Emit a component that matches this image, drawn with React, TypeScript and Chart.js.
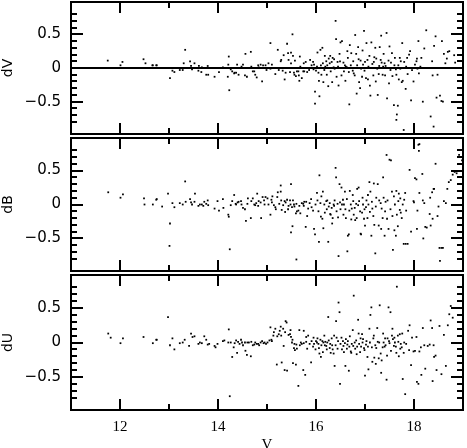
import React, { useEffect, useRef } from 'react';
import { Chart, registerables } from 'chart.js';
Chart.register(...registerables);

// ---- data: [V magnitude, residual] ----
const dVPoints: [number, number][] = [
  [11.75,0.11],[12.05,0.09],[12.01,0.04],[12.48,0.13],[12.52,0.07],[12.66,0.04],[12.74,0.04],
  [12.67,0.04],[12.75,0.04],[12.86,0.00],[13.02,-0.15],[13.07,-0.04],[13.11,-0.06],[13.22,-0.03],[13.28,-0.03],[13.30,0.07],[13.33,0.27],[13.43,0.10],[13.45,0.03],[13.47,-0.02],[13.52,0.07],[13.61,0.03],[13.60,-0.04],[13.66,-0.06],[13.67,0.01],[13.72,0.00],[13.76,-0.10],[13.79,0.03],[13.80,-0.10],[13.93,-0.13],
  [14.02,-0.06],[14.10,0.01],[14.20,-0.13],[14.21,0.05],[14.22,0.17],[14.23,-0.33],[14.26,-0.02],[14.29,-0.05],[14.33,-0.08],[14.34,-0.07],[14.37,-0.07],[14.39,0.05],[14.42,-0.10],[14.48,0.02],[14.51,0.05],[14.55,-0.11],[14.56,0.21],[14.59,-0.13],[14.67,0.24],[14.68,0.02],[14.71,-0.05],[14.74,-0.05],[14.76,-0.10],[14.79,-0.14],[14.82,0.04],[14.83,0.01],[14.87,0.05],[14.90,-0.20],[14.92,0.04],[14.97,0.04],[14.99,-0.03],
  [15.03,0.07],[15.07,0.37],[15.07,-0.01],[15.10,0.05],[15.14,0.00],[15.17,-0.09],[15.22,0.27],[15.24,-0.03],[15.28,0.10],[15.29,0.12],[15.32,-0.04],[15.34,0.19],[15.36,-0.17],[15.38,-0.07],[15.41,0.36],[15.43,0.22],[15.44,0.12],[15.47,-0.06],[15.49,0.23],[15.49,0.07],[15.52,0.50],[15.53,0.18],[15.55,-0.07],[15.56,-0.10],[15.57,0.11],[15.59,-0.12],[15.61,-0.05],[15.64,-0.05],[15.66,-0.19],[15.67,0.17],[15.68,0.02],[15.71,-0.15],[15.74,-0.05],[15.76,-0.05],[15.79,0.09],[15.82,-0.06],
  [15.65,-0.11],[15.75,0.07],[15.83,0.00],[15.86,-0.03],[15.88,0.12],[15.91,0.04],[15.94,0.09],[15.95,-0.02],[15.96,0.05],[15.98,-0.35],[15.98,-0.53],[16.00,-0.04],[16.02,0.02],[16.03,0.23],[16.05,-0.07],[16.06,-0.19],[16.07,-0.42],[16.09,0.27],[16.10,0.04],[16.11,-0.10],[16.13,0.30],[16.14,0.07],[16.15,-0.21],[16.17,-0.03],[16.18,0.18],[16.19,0.02],[16.21,0.10],[16.22,-0.10],[16.23,0.04],[16.25,-0.27],[16.26,0.14],[16.28,0.07],[16.29,0.18],[16.30,-0.05],[16.32,0.09],[16.33,-0.21],[16.34,0.15],[16.36,0.01],[16.37,0.13],[16.38,-0.01],[16.40,0.70],[16.41,0.43],[16.42,-0.13],[16.44,0.09],[16.45,0.02],[16.46,-0.26],[16.48,0.21],[16.49,0.10],[16.50,0.38],[16.52,-0.11],[16.53,0.40],[16.55,0.00],[16.56,0.08],[16.57,-0.05],[16.59,0.04],[16.60,-0.19],[16.61,0.02],[16.63,0.01],[16.64,0.25],[16.65,0.15],[16.67,-0.06],[16.68,-0.54],[16.69,0.34],[16.71,0.04],[16.72,0.22],[16.73,0.00],[16.75,-0.04],[16.76,0.10],[16.77,-0.08],[16.79,-0.11],[16.80,0.49],[16.82,0.21],[16.83,-0.38],[16.84,0.04],[16.86,0.31],[16.87,0.13],[16.88,-0.21],[16.90,-0.30],[16.91,0.11],[16.92,-0.01],[16.94,-0.13],[16.95,0.26],[16.96,0.05],[16.98,0.55],[16.99,-0.04],
  [17.00,0.09],[17.02,-0.15],[17.03,0.37],[17.05,0.12],[17.06,-0.17],[17.07,0.02],[17.09,0.18],[17.10,-0.26],[17.11,-0.41],[17.13,0.38],[17.14,0.00],[17.15,0.06],[17.17,-0.11],[17.18,0.09],[17.19,0.16],[17.21,0.30],[17.22,-0.20],[17.23,0.14],[17.25,-0.01],[17.26,-0.40],[17.28,-0.09],[17.29,0.03],[17.30,0.31],[17.32,0.12],[17.33,0.48],[17.34,0.08],[17.36,-0.10],[17.37,0.02],[17.38,0.21],[17.40,0.07],[17.41,-0.11],[17.42,0.03],[17.44,0.52],[17.45,-0.45],[17.46,0.00],[17.48,0.11],[17.49,-0.23],[17.50,0.32],[17.52,-0.03],[17.53,0.08],[17.55,0.22],[17.56,-0.12],[17.57,0.00],[17.59,-0.55],[17.60,0.04],[17.61,0.15],[17.63,-0.02],[17.64,-0.10],[17.65,-0.69],[17.67,-0.56],[17.64,-0.77],[17.68,0.04],[17.69,-0.17],[17.71,0.15],[17.72,-0.01],[17.73,0.10],[17.75,-0.21],[17.76,0.37],[17.77,-0.19],[17.79,-0.92],[17.80,0.09],[17.83,-0.31],[17.84,0.02],[17.86,0.15],[17.87,-0.09],[17.90,0.20],[17.92,0.25],[17.94,-0.48],[17.96,-0.03],[17.99,-0.20],
  [18.02,0.05],[18.05,0.10],[18.06,0.14],[18.07,-0.01],[18.09,0.40],[18.10,-0.08],[18.13,0.02],[18.15,0.15],[18.18,-0.50],[18.21,0.29],[18.23,0.00],[18.25,0.56],[18.28,0.00],[18.32,0.00],[18.34,-0.72],[18.37,0.10],[18.38,-0.11],[18.40,-0.87],[18.41,0.33],[18.44,0.47],[18.46,-0.44],[18.48,-0.10],[18.53,-0.41],[18.56,-0.49],[18.57,0.40],[18.59,-0.50],[18.61,0.21],[18.64,0.07],[18.67,0.14],[18.69,0.24],[18.72,0.25],[18.82,0.19],[18.84,0.08]
];

const dBPoints: [number, number][] = [
  [11.76,0.18],[12.01,0.10],[12.06,0.15],[12.49,0.09],[12.50,0.00],[12.67,0.00],[12.74,0.07],
  [12.75,0.08],[12.86,-0.03],[12.98,0.16],[13.02,-0.28],[13.01,-0.61],[13.07,0.02],[13.11,-0.04],[13.22,0.02],[13.28,0.00],[13.33,0.34],[13.34,0.04],[13.43,0.08],[13.45,0.03],[13.47,0.00],[13.52,0.04],[13.53,0.16],[13.60,-0.02],[13.63,0.00],[13.67,0.00],[13.70,-0.02],[13.72,0.04],[13.76,0.01],[13.79,0.06],[13.80,-0.01],[13.93,-0.06],[13.99,0.05],
  [14.02,-0.09],[14.10,0.08],[14.11,-0.05],[14.21,-0.15],[14.22,-0.18],[14.24,-0.66],[14.26,-0.01],[14.29,0.05],[14.33,0.14],[14.36,0.01],[14.37,0.00],[14.40,0.03],[14.42,0.04],[14.47,0.05],[14.48,0.00],[14.51,-0.05],[14.55,-0.07],[14.57,-0.24],[14.60,0.01],[14.61,0.09],[14.67,-0.20],[14.68,0.05],[14.71,0.09],[14.74,0.00],[14.76,-0.01],[14.78,0.02],[14.80,0.16],[14.82,-0.02],[14.83,0.05],[14.87,0.03],[14.88,-0.20],[14.91,0.11],[14.94,0.06],[14.95,0.00],[14.97,0.11],
  [15.01,0.09],[15.03,0.00],[15.07,-0.15],[15.09,0.07],[15.10,0.03],[15.11,0.12],[15.14,-0.01],[15.17,-0.04],[15.18,-0.07],[15.21,0.11],[15.22,0.18],[15.25,0.01],[15.28,0.28],[15.28,0.19],[15.29,0.06],[15.30,-0.08],[15.33,-0.01],[15.36,0.05],[15.37,-0.11],[15.38,0.03],[15.41,0.07],[15.43,-0.07],[15.44,-0.02],[15.47,0.06],[15.48,0.00],[15.49,0.30],[15.51,-0.04],[15.52,-0.32],[15.53,0.06],[15.55,0.00],[15.56,-0.03],[15.59,-0.13],[15.60,0.01],[15.61,-0.10],[15.64,-0.09],[15.66,-0.02],[15.68,-0.13],[15.71,0.02],[15.74,0.01],[15.76,0.04],[15.79,-0.33],[15.80,0.04],[15.60,-0.81],[15.49,-0.41],
  [15.75,-0.02],[15.82,-0.17],[15.84,-0.06],[15.87,0.02],[15.90,0.08],[15.91,-0.04],[15.94,-0.09],[15.96,-0.36],[15.98,-0.44],[15.99,0.00],[16.02,0.17],[16.03,0.06],[16.05,-0.10],[16.06,-0.55],[16.07,0.43],[16.09,0.02],[16.10,-0.18],[16.11,0.12],[16.13,-0.21],[16.14,0.19],[16.15,-0.35],[16.17,0.00],[16.18,-0.12],[16.21,0.05],[16.22,-0.07],[16.23,0.06],[16.25,-0.55],[16.26,-0.03],[16.28,0.02],[16.29,-0.14],[16.30,-0.15],[16.32,-0.05],[16.33,-0.28],[16.34,-0.20],[16.36,0.00],[16.37,-0.02],[16.38,0.06],[16.40,0.54],[16.41,0.40],[16.42,-0.10],[16.44,0.01],[16.45,-0.19],[16.46,-0.76],[16.48,0.30],[16.49,0.03],[16.50,-0.07],[16.52,0.25],[16.53,0.00],[16.55,0.07],[16.56,-0.15],[16.57,0.00],[16.59,0.19],[16.60,-0.07],[16.61,-0.20],[16.63,0.08],[16.64,-0.69],[16.65,-0.46],[16.67,-0.44],[16.68,-0.09],[16.69,0.20],[16.71,0.00],[16.72,-0.22],[16.73,-0.06],[16.75,0.14],[16.76,0.05],[16.77,-0.15],[16.79,-0.05],[16.80,-0.23],[16.82,0.01],[16.83,-0.20],[16.84,0.23],[16.86,-0.01],[16.87,0.25],[16.88,0.05],[16.90,-0.10],[16.91,-0.43],[16.92,-0.44],[16.94,-0.12],[16.95,0.10],[16.96,0.00],[16.98,-0.21],[16.99,-0.07],
  [17.00,-0.31],[17.02,-0.04],[17.03,0.06],[17.05,-0.20],[17.06,0.14],[17.07,0.00],[17.09,0.33],[17.10,-0.11],[17.11,0.19],[17.13,-0.46],[17.14,0.04],[17.15,-0.06],[17.17,-0.17],[17.18,0.31],[17.19,-0.30],[17.21,-0.72],[17.22,-0.03],[17.23,0.10],[17.26,0.30],[17.28,-0.31],[17.29,0.06],[17.32,0.02],[17.33,-0.36],[17.34,-0.06],[17.36,-0.20],[17.37,0.40],[17.38,0.10],[17.40,-0.46],[17.41,-0.10],[17.42,0.04],[17.44,0.73],[17.45,-0.21],[17.46,0.06],[17.48,-0.36],[17.50,0.66],[17.52,-0.07],[17.53,0.65],[17.55,0.19],[17.56,-0.17],[17.57,-0.67],[17.59,0.12],[17.60,-0.38],[17.61,0.00],[17.63,-0.46],[17.64,0.20],[17.65,-0.15],[17.67,-0.32],[17.68,0.05],[17.69,0.16],[17.71,-0.08],[17.72,0.09],[17.73,-0.12],[17.75,-0.20],[17.77,0.00],[17.79,-0.58],[17.80,0.07],[17.82,0.17],[17.83,-0.58],[17.84,-0.09],[17.87,-0.58],[17.91,0.51],[17.94,-0.40],[17.99,0.05],
  [18.00,0.03],[18.02,0.39],[18.05,0.37],[18.06,-0.36],[18.07,-0.09],[18.09,0.88],[18.10,0.79],[18.11,0.17],[18.11,0.89],[18.17,0.45],[18.18,0.06],[18.19,-0.50],[18.21,0.02],[18.23,-0.33],[18.26,-0.34],[18.32,-0.14],[18.33,0.10],[18.34,-0.31],[18.37,0.18],[18.38,-0.21],[18.40,0.23],[18.41,0.23],[18.44,0.60],[18.48,-0.17],[18.50,-0.03],[18.52,-0.64],[18.53,-0.83],[18.56,-0.64],[18.59,-0.64],[18.61,0.05],[18.65,0.02],[18.68,0.23],[18.71,0.33],[18.75,0.36],[18.79,0.44],[18.83,0.48],[18.87,0.46],[18.92,0.73],[18.98,0.65]
];

const dUPoints: [number, number][] = [
  [11.76,0.13],[11.81,0.07],[12.01,-0.01],[12.06,0.06],[12.48,0.08],[12.67,-0.01],[12.74,0.04],
  [12.75,0.04],[12.98,0.37],[13.02,-0.04],[13.07,0.06],[13.11,-0.10],[13.22,-0.01],[13.28,0.00],[13.32,0.04],[13.41,-0.05],[13.45,0.13],[13.48,0.08],[13.52,0.09],[13.60,-0.02],[13.63,0.00],[13.67,-0.01],[13.72,0.09],[13.76,0.04],[13.79,-0.03],[13.82,-0.02],[13.93,-0.05],[13.95,-0.07],[13.99,-0.02],
  [14.10,0.02],[14.13,0.03],[14.21,0.00],[14.22,0.19],[14.24,-0.78],[14.26,0.00],[14.29,-0.21],[14.32,-0.07],[14.34,-0.01],[14.37,0.03],[14.39,-0.15],[14.41,0.01],[14.44,-0.02],[14.47,0.04],[14.49,0.00],[14.51,-0.04],[14.55,0.00],[14.56,-0.12],[14.59,-0.18],[14.60,0.00],[14.63,0.00],[14.67,-0.20],[14.68,0.01],[14.71,-0.04],[14.74,-0.03],[14.76,0.00],[14.79,-0.02],[14.82,-0.02],[14.84,-0.04],[14.87,0.00],[14.90,0.02],[14.93,-0.01],[14.95,0.00],[14.98,-0.02],
  [15.01,0.00],[15.05,0.03],[15.07,0.22],[15.09,0.04],[15.10,0.02],[15.13,0.10],[15.14,0.15],[15.17,0.20],[15.20,-0.32],[15.21,0.09],[15.24,0.12],[15.26,0.17],[15.28,0.23],[15.29,0.10],[15.30,-0.29],[15.33,0.20],[15.34,-0.05],[15.36,-0.40],[15.37,0.15],[15.38,0.31],[15.40,0.29],[15.41,-0.41],[15.44,0.11],[15.47,0.12],[15.48,0.18],[15.49,0.08],[15.51,0.00],[15.52,0.04],[15.53,-0.30],[15.55,-0.08],[15.56,-0.02],[15.57,-0.11],[15.59,-0.32],[15.60,-0.03],[15.61,-0.09],[15.64,-0.63],[15.66,0.18],[15.67,-0.04],[15.69,0.00],[15.71,-0.02],[15.74,-0.40],[15.75,-0.01],[15.78,-0.47],[15.80,0.01],
  [15.75,0.17],[15.80,0.08],[15.82,-0.09],[15.84,0.10],[15.87,-0.02],[15.90,-0.29],[15.91,0.02],[15.94,-0.06],[15.95,0.07],[15.96,-0.02],[15.99,-0.10],[16.00,0.02],[16.02,0.00],[16.03,0.06],[16.05,-0.02],[16.06,-0.08],[16.07,-0.16],[16.09,0.04],[16.10,-0.21],[16.11,-0.04],[16.13,0.02],[16.14,-0.14],[16.15,0.00],[16.17,0.10],[16.18,-0.04],[16.19,0.01],[16.21,-0.05],[16.22,-0.10],[16.23,0.00],[16.25,0.37],[16.26,0.03],[16.28,-0.08],[16.29,-0.02],[16.30,-0.15],[16.32,0.06],[16.33,-0.04],[16.34,-0.10],[16.36,-0.16],[16.37,0.10],[16.38,-0.34],[16.40,-0.04],[16.41,0.31],[16.42,0.07],[16.44,-0.09],[16.45,0.02],[16.46,0.58],[16.48,0.44],[16.49,-0.60],[16.50,-0.02],[16.52,0.07],[16.53,-0.10],[16.55,0.02],[16.56,-0.05],[16.57,-0.14],[16.59,-0.01],[16.60,-0.34],[16.61,0.05],[16.63,-0.09],[16.64,-0.03],[16.65,0.02],[16.67,-0.41],[16.68,-0.06],[16.69,0.09],[16.71,-0.13],[16.72,-0.15],[16.73,-0.02],[16.75,0.18],[16.76,-0.05],[16.77,0.68],[16.79,0.00],[16.80,-0.09],[16.82,0.03],[16.83,-0.17],[16.84,-0.06],[16.86,0.33],[16.87,0.13],[16.88,-0.02],[16.90,-0.14],[16.91,0.06],[16.92,-0.06],[16.94,0.12],[16.95,0.00],[16.96,0.05],[16.98,-0.08],[16.99,-0.11],
  [17.00,-0.48],[17.02,-0.03],[17.03,0.02],[17.05,-0.21],[17.06,-0.06],[17.07,-0.39],[17.09,0.20],[17.10,0.00],[17.11,0.40],[17.13,0.51],[17.14,-0.07],[17.15,-0.28],[17.17,0.06],[17.18,0.10],[17.19,-0.22],[17.21,-0.04],[17.22,-0.31],[17.23,-0.08],[17.25,0.21],[17.26,0.01],[17.28,-0.23],[17.29,0.00],[17.30,0.54],[17.32,-0.16],[17.33,-0.44],[17.34,-0.26],[17.36,-0.07],[17.37,0.13],[17.38,0.00],[17.40,-0.06],[17.41,0.06],[17.42,-0.04],[17.44,-0.54],[17.45,-0.19],[17.46,0.06],[17.48,0.51],[17.49,0.02],[17.50,-0.01],[17.52,0.44],[17.53,-0.12],[17.55,0.10],[17.56,0.20],[17.57,0.05],[17.59,-0.05],[17.60,0.07],[17.61,0.00],[17.63,-0.06],[17.64,-0.15],[17.65,0.81],[17.67,0.10],[17.68,0.01],[17.69,-0.20],[17.71,0.12],[17.72,-0.09],[17.73,-0.02],[17.75,-0.07],[17.76,0.13],[17.77,-0.53],[17.79,-0.15],[17.80,0.00],[17.82,-0.75],[17.84,-0.02],[17.88,0.17],[17.90,-0.11],[17.91,0.25],[17.94,-0.33],[17.96,0.07],[17.99,-0.13],
  [18.02,-0.12],[18.05,0.08],[18.06,-0.57],[18.09,-0.60],[18.11,-0.13],[18.14,-0.07],[18.15,-0.47],[18.18,0.21],[18.21,-0.04],[18.23,-0.38],[18.28,-0.05],[18.32,-0.03],[18.34,0.32],[18.37,0.21],[18.38,-0.56],[18.40,-0.04],[18.41,-0.21],[18.44,-0.19],[18.46,-0.40],[18.52,0.24],[18.56,-0.46],[18.61,0.11],[18.65,-0.34],[18.69,0.25],[18.72,0.41],[18.75,0.53],[18.79,0.36]
];

const xRange = [11, 19];
const yRange = [-0.98, 0.98];
const xLabelTicks = [12, 14, 16, 18];
const yLabelTicks = [-0.5, 0, 0.5];
const zeroLine = [0, 0];

const isMult = (v: number, step: number) => Math.abs(v / step - Math.round(v / step)) < 1e-6;

const frameTicks = {
  id: 'frameTicks',
  afterDatasetsDraw(chart: any) {
    const { ctx, chartArea: a, scales } = chart;
    const x = scales.x, y = scales.y;
    ctx.save();
    ctx.strokeStyle = '#000';
    ctx.lineWidth = 2;
    ctx.beginPath();
    ctx.rect(a.left, a.top, a.right - a.left, a.bottom - a.top);
    for (const t of y.ticks) {
      const v = t.value;
      if (!isMult(v, 0.1)) continue;
      const len = isMult(v, 0.5) ? 12 : 6;
      const py = Math.round(y.getPixelForValue(v));
      ctx.moveTo(a.left, py); ctx.lineTo(a.left + len, py);
      ctx.moveTo(a.right, py); ctx.lineTo(a.right - len, py);
    }
    for (const t of x.ticks) {
      const v = t.value;
      if (!isMult(v, 1)) continue;
      const len = isMult(v, 2) ? 11 : 6;
      const px = Math.round(x.getPixelForValue(v));
      ctx.moveTo(px, a.bottom); ctx.lineTo(px, a.bottom - len);
      ctx.moveTo(px, a.top); ctx.lineTo(px, a.top + len);
    }
    ctx.stroke();
    ctx.restore();
  },
};

type PanelProps = {
  points: [number, number][];
  label: string;
  top: number;
  height: number;
  showX: boolean;
  zero?: boolean;
};

function Panel({ points, label, top, height, showX, zero }: PanelProps) {
  const ref = useRef<HTMLCanvasElement | null>(null);
  useEffect(() => {
    if (!ref.current) return;
    const datasets: any[] = [
      {
        type: 'scatter',
        data: points.map(([vx, vy]) => ({ x: vx, y: vy })),
        pointStyle: 'rect',
        pointRadius: 1.25,
        pointBorderWidth: 0,
        pointBackgroundColor: '#000',
        backgroundColor: '#000',
      },
    ];
    if (zero) {
      datasets.push({
        type: 'line',
        data: xRange.map((vx, i) => ({ x: vx, y: zeroLine[i] })),
        borderColor: '#000',
        borderWidth: 2,
        pointRadius: 0,
        fill: false,
      });
    }
    const chart = new Chart(ref.current, {
      type: 'scatter',
      data: { datasets },
      plugins: [frameTicks],
      options: {
        animation: false,
        responsive: false,
        events: [],
        layout: { padding: { left: 0, right: 1, top: 2, bottom: showX ? 0 : 2 } },
        plugins: { legend: { display: false }, tooltip: { enabled: false } },
        scales: {
          x: {
            type: 'linear',
            min: xRange[0],
            max: xRange[1],
            grid: { display: false, drawTicks: false },
            border: { display: false },
            ticks: {
              display: showX,
              stepSize: 1,
              autoSkip: false,
              maxRotation: 0,
              padding: 8,
              color: '#000',
              font: { family: 'Liberation Serif', size: 15 },
              callback: (v: any) => (xLabelTicks.includes(Number(v)) ? String(v) : ''),
            },
            title: {
              display: showX,
              text: 'V',
              color: '#000',
              font: { family: 'Liberation Serif', size: 15 },
              padding: { top: 0, bottom: -6 },
            },
            afterFit: (s: any) => {
              s.height = showX ? 38 : 0;
              s.paddingLeft = 0;
              s.paddingRight = 0;
            },
          },
          y: {
            type: 'linear',
            min: yRange[0],
            max: yRange[1],
            grid: { display: false, drawTicks: false },
            border: { display: false },
            ticks: {
              stepSize: 0.1,
              autoSkip: false,
              padding: 10,
              color: '#000',
              font: { family: 'DejaVu Sans', size: 15 },
              callback: (v: any) => {
                const n = Number(v);
                const hit = yLabelTicks.find((t) => Math.abs(t - n) < 1e-6);
                if (hit === undefined) return '';
                return hit < 0 ? '\u2212' + Math.abs(hit) : String(hit);
              },
            },
            title: {
              display: true,
              text: label,
              color: '#000',
              font: { family: 'DejaVu Sans', size: 14 },
              padding: { top: 0, bottom: 0 },
            },
            afterFit: (s: any) => {
              s.width = 71;
              s.paddingTop = 0;
              s.paddingBottom = 0;
            },
          },
        },
      } as any,
    });
    return () => chart.destroy();
  }, [points, label, showX, zero]);
  return (
    <canvas
      ref={ref}
      width={467}
      height={height}
      style={{ position: 'absolute', left: 0, top, width: 467, height }}
    />
  );
}

export default function App() {
  return (
    <div style={{ position: 'absolute', left: 0, top: 0, width: 467, height: 448, overflow: 'hidden', background: '#fff' }}>
      <Panel points={dVPoints} label="dV" top={-2} height={140} showX={false} zero />
      <Panel points={dBPoints} label="dB" top={134} height={141} showX={false} />
      <Panel points={dUPoints} label="dU" top={271} height={177} showX />
    </div>
  );
}
